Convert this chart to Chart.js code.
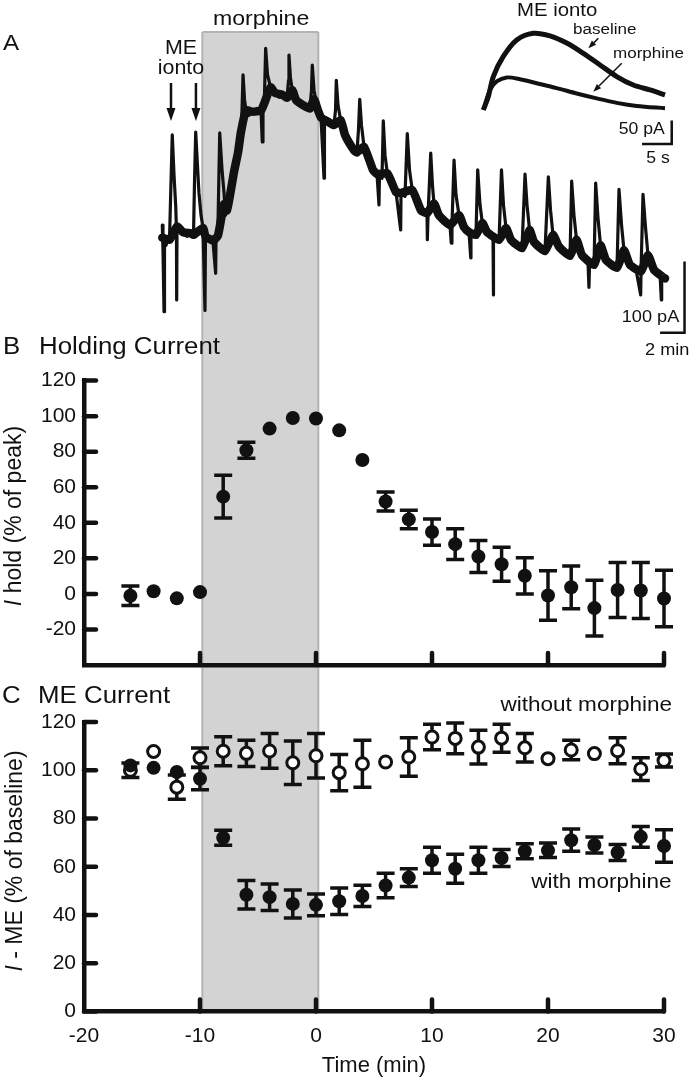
<!DOCTYPE html>
<html><head><meta charset="utf-8">
<script src="https://cdn.jsdelivr.net/npm/chart.js@4.4.1/dist/chart.umd.min.js"></script>
<style>
html,body{margin:0;padding:0;background:#fff;}
#wrap{position:relative;width:690px;height:1080px;overflow:hidden;font-family:"Liberation Sans",Arial,Helvetica,sans-serif;color:#111;}
canvas{position:absolute;left:0;}
.t{position:absolute;line-height:1;white-space:nowrap;transform:scaleX(1.1);transform-origin:left center;}
.r{transform-origin:right center;}
.c{text-align:center;transform-origin:center center;}
.rot{position:absolute;line-height:1;white-space:nowrap;font-size:23px;transform:translate(-50%,-50%) rotate(-90deg);}
</style></head><body>
<div id="wrap">
<canvas id="cA" width="690" height="360" style="top:0"></canvas>
<canvas id="cB" width="690" height="330" style="top:360px"></canvas>
<canvas id="cC" width="690" height="390" style="top:690px"></canvas>

<div class="t" style="left:3px;top:32px;font-size:22px">A</div>
<div class="t" style="left:213px;top:7px;font-size:21px">morphine</div>
<div class="t c" style="left:151px;width:60px;top:37.5px;font-size:19.5px">ME</div>
<div class="t c" style="left:151px;width:60px;top:57.5px;font-size:19.5px">ionto</div>
<div class="t" style="left:517px;top:1px;font-size:18.5px">ME ionto</div>
<div class="t" style="left:573px;top:20.7px;font-size:15.5px">baseline</div>
<div class="t" style="left:613px;top:44.7px;font-size:15.5px">morphine</div>
<div class="t r" style="right:25px;top:121px;font-size:16px">50 pA</div>
<div class="t c" style="left:627.5px;width:60px;top:149.5px;font-size:16px">5 s</div>
<div class="t r" style="right:11px;top:307.8px;font-size:16.5px">100 pA</div>
<div class="t" style="left:645px;top:340.5px;font-size:16.5px">2 min</div>

<div class="t" style="left:3px;top:335.2px;font-size:23.5px">B</div>
<div class="t" style="left:39px;top:335.2px;font-size:23.5px">Holding Current</div>
<div class="rot" style="left:13px;top:516px"><i>I</i> hold (% of peak)</div>

<div class="t" style="left:2px;top:683.6px;font-size:23.5px">C</div>
<div class="t" style="left:38px;top:683.6px;font-size:23.5px">ME Current</div>
<div class="rot" style="left:14px;top:861px"><i>I</i> - ME (% of baseline)</div>
<div class="t r" style="right:18px;top:694px;font-size:20.5px">without morphine</div>
<div class="t r" style="right:18px;top:870.6px;font-size:20.5px">with morphine</div>
</div>

<script>
// ---------------- data ----------------
const timeBins = [-16,-14,-12,-10,-8,-6,-4,-2,0,2,4,6,8,10,12,14,16,18,20,22,24,26,28,30];
const holdMean = [-1,1.5,-2.5,1,54.7,80.8,93,99,98.7,92,75.3,52,41.9,34.8,28,21,16.7,10.2,-0.9,3.7,-8,2.2,1.9,-2.6];
const holdSem  = [5.5,0,0,0,12,4.5,0,0,0,0,0,5.3,5.2,7.4,8.7,9,9.6,10.2,13.9,12,15.7,15.5,15.7,15.9];
const meWithoutMean = [100,107.8,93,105.2,107.9,107,108,103.1,106,99,102.7,103.4,105.5,113.8,113.2,109.6,113.3,109.3,104.8,108.4,106.9,108.1,100.5,104];
const meWithoutSem  = [3,0,5,4,6,5.4,7.2,9,9.2,7.5,9.7,0,8,5.3,6.4,7,5.8,5.9,0,4,0,5.4,4.7,2.7];
const meWithMean = [102,101,99.3,96.5,72,48.4,47.4,44.6,44.2,45.7,47.9,52.2,55.5,62.7,59.2,62.7,63.6,66.4,66.8,71,69,65.9,72.4,68.6];
const meWithSem  = [0,0,0,4.6,3.1,5.9,5.5,5.8,4.5,5.5,4.4,5.1,3.7,5.4,6,5.4,3.5,3.1,3,4.6,3.3,3.3,4.3,6.7];

const xTickValues = [-20,-10,0,10,20,30];
const holdTicks = [-20,0,20,40,60,80,100,120];
const meTicks = [0,20,40,60,80,100,120];
const morphineStart = -9.8, morphineEnd = 0.2;
const iontoTimes = [-12.5,-10.35];

// whole-cell trace (time in min, current in pA relative to initial baseline)
const traceTime = [
-13.25,-13.19,-13.10,-13.06,-12.93,-12.76,-12.63,-12.54,-12.39,-12.24,
-12.09,-12.03,-12.01,-11.98,-11.81,-11.47,-11.12,-10.78,-10.56,-10.47,
-10.37,-10.22,-10.09,-9.91,-9.74,-9.57,-9.53,-9.22,-8.88,-8.65,
-8.62,-8.45,-8.30,-8.10,-7.93,-7.80,-7.67,-7.41,-7.07,-6.72,
-6.47,-6.38,-6.29,-6.16,-6.03,-5.78,-5.43,-5.09,-4.74,-4.63,
-4.57,-4.44,-4.34,-4.18,-3.91,-3.53,-3.19,-2.84,-2.50,-2.37,
-2.33,-2.20,-2.04,-1.72,-1.29,-0.86,-0.52,-0.39,-0.32,-0.17,
0.11,0.43,0.69,0.73,1.12,1.55,1.68,1.75,1.90,2.13,
2.50,2.93,3.28,3.53,3.66,3.77,3.92,4.14,4.48,4.91,
5.26,5.43,5.47,5.69,5.80,5.95,6.15,6.47,6.90,7.30,
7.33,7.67,7.87,8.06,8.30,8.62,9.05,9.57,9.60,9.66,
9.89,10.04,10.17,10.60,11.12,11.55,11.66,11.72,11.90,12.07,
12.33,12.76,13.19,13.34,13.36,13.79,13.94,14.14,14.34,14.74,
15.26,15.28,15.32,15.78,15.99,16.16,16.38,16.81,17.33,17.76,
18.02,18.19,18.41,18.79,19.31,19.74,20.03,20.22,20.43,20.95,
21.47,21.90,22.04,22.24,22.46,22.93,23.45,23.53,23.58,23.97,
24.11,24.31,24.53,25.00,25.52,25.95,26.12,26.34,26.55,27.07,
27.59,27.99,28.02,28.19,28.41,28.62,29.14,29.66,29.77,29.80,
30.09,30.20,30.39,30.60,31.03,31.21,31.25,31.47];
const traceCurrent = [
10,-26,-114,-11,-19,-9,-11,46,139,82,
36,3,-97,10,10,0,-6,-1,-4,74,
143,96,56,24,6,-112,-6,-11,-14,-59,
-11,10,142,89,56,24,31,53,86,114,
143,174,225,189,174,167,172,177,174,129,
177,196,263,225,207,199,193,196,192,217,
253,220,203,189,184,179,177,203,239,203,
177,164,77,163,157,153,174,217,181,160,
139,127,117,114,146,190,153,122,100,89,
83,39,81,77,159,110,84,67,57,3,
56,51,141,89,60,41,31,27,-11,26,
113,67,41,24,14,10,-16,9,103,53,
24,7,0,-37,-1,-4,89,39,13,0,
-9,-90,-9,-11,89,39,6,-11,-19,-23,
83,39,3,-14,-23,-27,79,31,-4,-21,
-29,-34,73,24,-11,-33,-44,-79,-46,-47,
70,20,-19,-40,-49,-51,61,10,-26,-47,
-54,-90,-56,54,6,-33,-54,-61,-97,-63,
-66,47,0,-37,-61,-106,-69,-71];

// slow (noise-band) level of the same trace, read between the ME responses
const noiseBandTime = [
-13.25,-12.63,-11.98,-11.47,-10.78,-10.56,-9.74,-9.53,-8.88,-8.45,
-7.93,-7.67,-7.41,-7.07,-6.72,-6.47,-6.03,-5.43,-4.74,-4.44,
-3.91,-3.53,-2.84,-2.50,-2.04,-1.72,-0.86,-0.52,-0.17,0.11,
0.43,1.12,1.55,2.13,2.50,3.28,3.53,4.14,4.91,5.26,
6.15,6.90,7.33,8.30,9.05,9.57,10.17,10.60,11.55,12.33,
12.76,13.19,13.79,14.34,14.74,15.78,16.38,16.81,17.76,18.41,
18.79,19.74,20.43,20.95,21.90,22.46,22.93,23.97,24.53,25.00,
25.95,26.55,27.07,28.02,28.62,29.14,29.80,30.09,30.60,31.03,31.47];
const noiseBandCurrent = [
-8,-11,8,0,-2,-4,6,-6,-12,-5,
40,31,53,86,114,143,174,172,174,185,
207,199,196,192,203,189,179,177,190,177,
164,157,153,160,139,117,114,122,89,83,
84,57,56,60,31,27,41,24,10,24,
7,0,-4,13,0,-11,6,-11,-23,3,
-14,-27,-4,-21,-34,-11,-33,-47,-19,-40,
-51,-26,-47,-56,-33,-54,-63,-66,-37,-61,-71];

// inset: single ME responses (time in s, current in pA)
const insetBaseTime = [0,0.88,1.76,3.52,5.88,8.80,11.74,14.68,17.61,20.55,23.49,26.41,29.35,31.99];
const insetBaseCurrent = [0,30,75,120,157,172,166,150,127,101,75,56,45,34];
const insetMorphTime = [0,1.18,2.36,4.12,6.46,9.40,12.92,16.44,19.96,23.49,27.01,31.99];
const insetMorphCurrent = [0,45,64,73,69,60,49,37,26,16,9,4];

// scale bars
const mainBar = {t:31.77, dt:2, i:-144, di:100};
const insetBar = {t:33.17, dt:5, i:-76.2, di:50};

// ---------------- helpers ----------------
const FONT = "'Liberation Sans', Arial, Helvetica, sans-serif";
Chart.defaults.font.family = FONT;
Chart.defaults.color = '#111';
const INK = '#111';
const pts = (xs, ys) => xs.map((x, i) => ({x, y: ys[i]}));

function arrow(ctx, x1, y1, x2, y2, head, width) {
  const a = Math.atan2(y2 - y1, x2 - x1);
  const bx = x2 - head * Math.cos(a), by = y2 - head * Math.sin(a);
  ctx.beginPath(); ctx.moveTo(x1, y1); ctx.lineTo(bx, by); ctx.stroke();
  ctx.beginPath(); ctx.moveTo(x2, y2);
  ctx.lineTo(bx + width / 2 * Math.sin(a), by - width / 2 * Math.cos(a));
  ctx.lineTo(bx - width / 2 * Math.sin(a), by + width / 2 * Math.cos(a));
  ctx.closePath(); ctx.fill();
}

const bandPlugin = {
  id: 'band',
  beforeDraw(chart, args, o) {
    const x = chart.scales.x, ctx = chart.ctx;
    const l = x.getPixelForValue(morphineStart), r = x.getPixelForValue(morphineEnd);
    const top = o.top || 0;
    const bottom = o.toArea ? chart.chartArea.bottom : chart.height;
    ctx.save();
    ctx.fillStyle = '#d3d3d3';
    ctx.fillRect(l, top, r - l, bottom - top);
    ctx.strokeStyle = '#b4b4b4'; ctx.lineWidth = 2;
    ctx.beginPath();
    ctx.moveTo(l, top); ctx.lineTo(l, bottom);
    ctx.moveTo(r, top); ctx.lineTo(r, bottom);
    if (o.topEdge) { ctx.moveTo(l, top); ctx.lineTo(r, top); }
    ctx.stroke();
    ctx.restore();
  }
};

const inwardTicks = {
  id: 'inwardTicks',
  beforeDatasetsDraw(chart) {
    const {ctx, chartArea: a, scales} = chart;
    ctx.save(); ctx.strokeStyle = INK; ctx.lineWidth = 4.5; ctx.lineCap = 'round';
    scales.y.ticks.forEach(t => {
      const py = scales.y.getPixelForValue(t.value);
      ctx.beginPath(); ctx.moveTo(a.left, py); ctx.lineTo(a.left + 12, py); ctx.stroke();
    });
    scales.x.ticks.forEach(t => {
      if (t.value === scales.x.min) return;
      const px = scales.x.getPixelForValue(t.value);
      ctx.beginPath(); ctx.moveTo(px, a.bottom); ctx.lineTo(px, a.bottom - 12); ctx.stroke();
    });
    ctx.restore();
  }
};

const errorBars = {
  id: 'errorBars',
  beforeDatasetsDraw(chart) {
    const ctx = chart.ctx, x = chart.scales.x, y = chart.scales.y;
    ctx.save(); ctx.strokeStyle = INK; ctx.lineWidth = 3.5; ctx.lineCap = 'butt';
    chart.data.datasets.forEach(ds => {
      if (!ds.errors) return;
      ds.data.forEach((p, i) => {
        const e = ds.errors[i]; if (!e) return;
        const px = x.getPixelForValue(p.x);
        const top = y.getPixelForValue(p.y + e), bot = y.getPixelForValue(p.y - e);
        ctx.beginPath();
        ctx.moveTo(px, top); ctx.lineTo(px, bot);
        ctx.moveTo(px - 9, top); ctx.lineTo(px + 9, top);
        ctx.moveTo(px - 9, bot); ctx.lineTo(px + 9, bot);
        ctx.stroke();
      });
    });
    ctx.restore();
  }
};

const annotA = {
  id: 'annotA',
  afterDatasetsDraw(chart) {
    const ctx = chart.ctx, s = chart.scales;
    ctx.save(); ctx.strokeStyle = INK; ctx.fillStyle = INK;
    // ME iontophoresis arrows
    ctx.lineWidth = 2.5;
    iontoTimes.forEach(t => { const px = s.x.getPixelForValue(t); arrow(ctx, px, 83, px, 121, 13, 9); });
    // main scale bar
    ctx.lineWidth = 2.5; ctx.lineCap = 'square';
    ctx.beginPath();
    ctx.moveTo(s.x.getPixelForValue(mainBar.t), s.y.getPixelForValue(mainBar.i + mainBar.di));
    ctx.lineTo(s.x.getPixelForValue(mainBar.t), s.y.getPixelForValue(mainBar.i));
    ctx.lineTo(s.x.getPixelForValue(mainBar.t - mainBar.dt), s.y.getPixelForValue(mainBar.i));
    ctx.stroke();
    // inset scale bar
    ctx.beginPath();
    ctx.moveTo(s.xi.getPixelForValue(insetBar.t), s.yi.getPixelForValue(insetBar.i + insetBar.di));
    ctx.lineTo(s.xi.getPixelForValue(insetBar.t), s.yi.getPixelForValue(insetBar.i));
    ctx.lineTo(s.xi.getPixelForValue(insetBar.t - insetBar.dt), s.yi.getPixelForValue(insetBar.i));
    ctx.stroke();
    // inset label arrows
    ctx.lineWidth = 1.5; ctx.lineCap = 'butt';
    arrow(ctx, s.xi.getPixelForValue(20.25), s.yi.getPixelForValue(160.8), s.xi.getPixelForValue(18.49), s.yi.getPixelForValue(138.3), 8, 6);
    arrow(ctx, s.xi.getPixelForValue(24.37), s.yi.getPixelForValue(104.7), s.xi.getPixelForValue(19.37), s.yi.getPixelForValue(41), 8, 6);
    ctx.restore();
  }
};

const hiddenLinear = (min, max) => ({type: 'linear', min, max, display: false});
const axisX = (showLabels, h, title) => ({
  type: 'linear', min: -20, max: 30,
  afterBuildTicks: s => { s.ticks = xTickValues.map(v => ({value: v})); },
  afterFit: s => { s.height = h; },
  ticks: {display: showLabels, autoSkip: false, maxRotation: 0, padding: 12, color: INK, font: {size: 21}},
  grid: {display: false, drawTicks: false},
  border: {display: true, color: INK, width: 4.5},
  title: title ? {display: true, text: title, color: INK, font: {size: 22}, padding: {top: 0, bottom: 1}} : {display: false}
});
const axisY = (min, max, tickVals) => ({
  type: 'linear', min, max,
  afterBuildTicks: s => { s.ticks = tickVals.map(v => ({value: v})); },
  afterFit: s => { s.width = 84; },
  ticks: {autoSkip: false, padding: 8, color: INK, font: {size: 21}},
  grid: {display: false, drawTicks: false},
  border: {display: true, color: INK, width: 4.5}
});
const common = {
  responsive: false, animation: false, devicePixelRatio: 1, events: [],
  plugins: {legend: {display: false}, tooltip: {enabled: false}}
};

// ---------------- Panel A: trace + inset ----------------
new Chart(document.getElementById('cA'), {
  type: 'scatter',
  data: {datasets: [
    {data: pts(traceTime, traceCurrent), showLine: true, pointRadius: 0, borderColor: INK, borderWidth: 3.2, borderJoinStyle: 'round', borderCapStyle: 'round', clip: false, xAxisID: 'x', yAxisID: 'y'},
    {data: pts(insetBaseTime, insetBaseCurrent), showLine: true, pointRadius: 0, borderColor: INK, borderWidth: 5, tension: 0.3, clip: false, xAxisID: 'xi', yAxisID: 'yi'},
    {data: pts(insetMorphTime, insetMorphCurrent), showLine: true, pointRadius: 0, borderColor: INK, borderWidth: 4, tension: 0.3, clip: false, xAxisID: 'xi', yAxisID: 'yi'},
    {data: pts(noiseBandTime, noiseBandCurrent), showLine: true, pointRadius: 0, borderColor: INK, borderWidth: 8.5, borderJoinStyle: 'round', borderCapStyle: 'round', tension: 0.15, clip: false, xAxisID: 'x', yAxisID: 'y'}
  ]},
  options: Object.assign({}, common, {
    layout: {padding: {left: 84, right: 26, top: 0, bottom: 0}},
    scales: {x: hiddenLinear(-20, 30), y: hiddenLinear(-183, 332), xi: hiddenLinear(-70.3, 31.81), yi: hiddenLinear(-560.6, 246.6)},
    plugins: Object.assign({}, common.plugins, {band: {top: 32, topEdge: true}})
  }),
  plugins: [bandPlugin, annotA]
});

// ---------------- Panel B: holding current ----------------
new Chart(document.getElementById('cB'), {
  type: 'scatter',
  data: {datasets: [
    {data: pts(timeBins, holdMean), errors: holdSem, pointRadius: 7, pointBackgroundColor: INK, pointBorderColor: INK, pointBorderWidth: 0, showLine: false, clip: false}
  ]},
  options: Object.assign({}, common, {
    layout: {padding: {left: 0, right: 26, top: 17, bottom: 0}},
    scales: {x: axisX(false, 25), y: axisY(-40, 120, holdTicks)},
    plugins: Object.assign({}, common.plugins, {band: {top: 0}})
  }),
  plugins: [bandPlugin, inwardTicks, errorBars]
});

// ---------------- Panel C: ME current ----------------
new Chart(document.getElementById('cC'), {
  type: 'scatter',
  data: {datasets: [
    {label: 'with morphine', data: pts(timeBins, meWithMean), errors: meWithSem, pointRadius: 7, pointBackgroundColor: INK, pointBorderColor: INK, pointBorderWidth: 0, showLine: false, clip: false},
    {label: 'without morphine', data: pts(timeBins, meWithoutMean), errors: meWithoutSem, pointRadius: 6, pointBackgroundColor: '#fff', pointBorderColor: INK, pointBorderWidth: 3, showLine: false, clip: false}
  ]},
  options: Object.assign({}, common, {
    layout: {padding: {left: 0, right: 26, top: 32, bottom: 0}},
    scales: {x: axisX(true, 68.5, 'Time (min)'), y: axisY(0, 120, meTicks)},
    plugins: Object.assign({}, common.plugins, {band: {top: 0, toArea: true}})
  }),
  plugins: [bandPlugin, inwardTicks, errorBars]
});
</script>
</body></html>
